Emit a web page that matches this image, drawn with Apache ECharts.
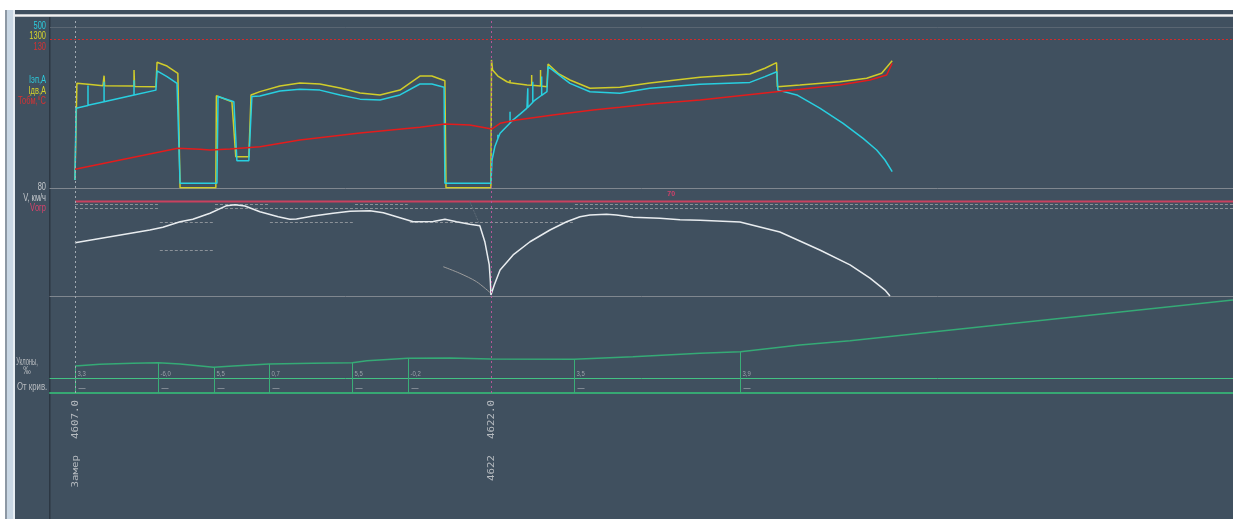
<!DOCTYPE html>
<html><head><meta charset="utf-8">
<script src="https://cdn.jsdelivr.net/npm/echarts@6/dist/echarts.min.js"></script>
<style>html,body{margin:0;padding:0;background:#fff;}#c{width:1233px;height:519px;}</style>
</head><body><div id="c"></div>
<script>
// ---------- DATA (x = km) ----------
const xMin = 4606.1, xMax = 4648.76;

// Iэп, A (cyan)
const iepData = [
 [4607.00,25],[4607.04,248],
 [4607.47,256],[4607.47,318],[4607.47,257],
 [4608.05,268],[4608.05,330],[4608.05,268],
 [4609.13,289],[4609.13,335],[4609.13,289],
 [4609.92,304],[4609.96,364],[4610.32,346],[4610.68,325],[4610.79,15],
 [4612.12,15],[4612.16,284],[4612.73,268],[4612.84,85],[4613.27,85],[4613.38,284],[4613.67,286],
 [4614.39,301],[4615.11,307],[4615.83,304],[4616.56,289],[4617.28,276],[4618.00,273],[4618.72,289],
 [4619.44,323],[4619.87,323],[4620.31,313],[4620.34,15],
 [4622.00,15],[4622.04,87],[4622.14,128],
 [4622.25,153],[4622.25,165],[4622.25,153],
 [4622.33,170],
 [4622.69,202],[4622.69,237],[4622.69,202],
 [4622.79,211],[4623.06,230],[4623.30,248],
 [4623.33,250],[4623.33,310],[4623.33,250],
 [4623.51,266],[4623.51,330],[4623.51,266],
 [4623.59,273],
 [4623.83,288],[4623.83,346],[4623.83,288],
 [4624.02,299],[4624.06,377],[4624.85,325],[4625.57,299],[4626.65,294],[4627.73,310],[4629.54,322],
 [4631.34,328],[4631.88,346],[4632.31,361],[4632.35,304],[4633.03,289],[4633.86,248],[4634.70,201],
 [4635.42,154],[4635.91,118],[4636.21,87],[4636.47,51]
];
// Iдв, A (yellow)
const idvData = [
 [4607.00,65],[4607.07,845],[4607.47,837],[4607.49,850],[4607.51,830],[4608.01,826],
 [4608.05,826],[4608.05,907],[4608.07,826],[4609.13,824],[4609.13,953],[4609.15,820],
 [4609.92,818],[4609.96,1015],[4610.32,985],[4610.71,926],[4610.79,3],
 [4612.08,3],[4612.10,745],[4612.66,697],[4612.80,253],[4613.27,253],[4613.35,751],[4613.67,778],
 [4614.39,824],[4615.11,848],[4615.83,840],[4616.56,808],[4617.28,767],[4618.00,751],[4618.72,791],
 [4619.44,904],[4619.87,904],[4620.34,866],[4620.38,3],
 [4622.00,3],[4622.02,1034],[4622.06,953],[4622.25,904],[4622.58,858],
 [4622.69,850],[4622.69,872],[4622.69,850],
 [4623.30,832],
 [4623.47,829],[4623.47,912],[4623.47,829],
 [4623.79,824],[4623.79,953],[4623.79,824],
 [4624.02,818],[4624.06,1001],[4624.45,921],[4624.85,872],[4625.57,805],[4626.65,813],[4627.73,848],
 [4629.54,894],[4631.34,921],[4631.88,967],[4632.30,1012],[4632.33,818],[4633.14,832],[4634.58,858],
 [4635.55,886],[4636.09,926],[4636.47,1028]
];
// Тобм, °C (red)
const tempData = [
 [4607.00,15.1],[4610.71,32.1],[4611.51,31.3],[4611.87,30.7],[4612.59,31.5],[4613.67,33.4],
 [4615.11,38.8],[4617.28,44.4],[4619.44,49.0],[4620.34,51.7],[4621.24,50.9],[4622.03,47.6],
 [4622.33,52.2],[4622.93,54.9],[4624.24,58.9],[4625.68,63.0],[4626.65,65.2],[4627.73,67.8],
 [4629.54,71.1],[4632.30,77.8],[4633.14,79.7],[4634.58,83.2],[4635.67,87.2],[4636.27,91.2],[4636.47,100.7]
];
const tempLimit = 120;
const iepScaleTop = 500;

// V, км/ч
const speedData = [
 [4607.00,39.5],[4609.70,48.9],[4610.17,50.9],[4610.79,55.0],[4611.25,56.8],[4611.87,61.3],
 [4612.47,66.9],[4612.77,67.6],[4613.13,66.7],[4613.67,62.4],[4614.33,58.7],[4614.75,56.8],
 [4614.99,57.0],[4615.59,59.3],[4616.31,61.3],[4616.92,62.7],[4617.64,63.2],[4618.12,61.7],
 [4618.72,58.0],[4619.20,55.0],[4619.92,55.2],[4620.34,56.8],[4620.76,55.0],[4621.24,53.1],
 [4621.60,52.1],[4621.78,40.2],[4621.94,23.0],[4621.98,10.6],[4622.00,0.7],[4622.12,8.1],
 [4622.33,19.3],[4622.80,30.4],[4623.41,40.2],[4624.13,48.9],[4624.73,55.0],[4625.21,58.7],
 [4625.57,60.0],[4626.17,60.5],[4626.53,60.0],[4627.13,58.3],[4628.09,57.6],[4628.82,56.5],
 [4629.54,56.1],[4630.98,54.8],[4632.42,47.4],[4633.86,34.1],[4634.95,23.0],[4635.67,13.3],
 [4636.21,4.4],[4636.39,0]
];
const speedAltData = [[4620.28,21.7],[4620.88,16.8],[4621.48,10.6],[4622.00,2.0]];
const brakeData = [[4621.24,69.9],[4621.60,52.6]];
const vLimit = 70;
// permanent speed limits: [from km, to km, km/h]
const limitUpper = [
 [4607.00,4610.00,68],[4610.06,4611.98,55],[4612.05,4614.03,68],[4614.03,4617.02,55],
 [4617.10,4619.00,68],[4619.08,4625.03,55],[4625.03,4648.76,68]
];
const limitLower = [[4607.00,4610.00,65],[4610.06,4611.98,34],[4612.05,4648.76,65]];

// profile (elevation, m relative)
const profileData = [
 [4607.0,12],[4607.9,13.7],[4609.09,14.7],[4610.0,15.3],[4610.79,14],[4612.0,10.7],[4612.7,12],
 [4614.0,14],[4615.58,14.7],[4617.0,15.3],[4617.53,17.3],[4619.0,19.7],[4620.52,20],[4622.0,19],
 [4625.0,18.7],[4627.12,21.3],[4629.54,24.7],[4631.0,26.3],[4633.14,33],[4634.95,37.3],[4648.76,78]
];
const gradeKm = [4607, 4610, 4612, 4614, 4617, 4619, 4625, 4631];
const gradeValues = [3.3, -6.0, 5.5, 0.7, 5.5, -0.2, 3.5, 3.9];
const curveRadius = [null, null, null, null, null, null, null, null];

// markers
const markerKm = [4607.0, 4622.0];
const markerLabels = ['4607.0', '4622.0'];
const markerNames = ['Замер', '4622'];

// ---------- CHART ----------
const fmtGrade = v => v.toFixed(1).replace('.', ',');
const elevAt = k => { const p = profileData.find(d => d[0] === k); return p ? p[1] : 0; };
const markerColors = ['#a2aab2', '#b4569a'];
const SANS = '"Liberation Sans",Arial,sans-serif';

const chart = echarts.init(document.getElementById('c'), null, {renderer: 'canvas', width: 1233, height: 519});

const X = (i, line) => ({
  gridIndex: i, type: 'value', min: xMin, max: xMax,
  axisLabel: {show: false}, axisTick: {show: false}, splitLine: {show: false},
  axisLine: Object.assign({show: true, onZero: false}, line)
});
const lbl = (text, x, y, color, align, size, sx) => ({
  type: 'text', x: x, y: y, z: 10, scaleX: sx || 0.68,
  style: {text: text, fill: color, font: (size || 11) + 'px ' + SANS, align: align || 'right', verticalAlign: 'middle'}
});

chart.setOption({
  animation: false,
  backgroundColor: '#40505f',
  grid: [
    {left: 50, right: 0, top: 27, height: 161},
    {left: 50, right: 0, top: 188, height: 108},
    {left: 50, right: 0, top: 296, height: 82},
    {left: 50, right: 0, top: 378, height: 15}
  ],
  xAxis: [
    X(0, {lineStyle: {color: '#80878f', width: 1}}),
    X(1, {lineStyle: {color: '#80878f', width: 1}}),
    X(2, {lineStyle: {color: '#43c283', width: 1}}),
    X(3, {lineStyle: {color: '#37a873', width: 2}})
  ],
  yAxis: [
    {gridIndex: 0, type: 'value', min: 0, max: 500, show: false},
    {gridIndex: 0, type: 'value', min: 0, max: 1300, show: false},
    {gridIndex: 0, type: 'value', min: 0, max: 130, show: false},
    {gridIndex: 1, type: 'value', min: 0, max: 80, show: false},
    {gridIndex: 2, type: 'value', min: 0, max: 82, show: false},
    {gridIndex: 3, type: 'value', min: 0, max: 1, show: false}
  ],
  graphic: [
    {type: 'rect', shape: {x: 0, y: 0, width: 1233, height: 10}, style: {fill: '#ffffff'}},
    {type: 'rect', shape: {x: 0, y: 0, width: 5, height: 519}, style: {fill: '#ffffff'}},
    {type: 'rect', shape: {x: 5, y: 10, width: 2, height: 509}, style: {fill: '#8d98a4'}},
    {type: 'rect', shape: {x: 7, y: 10, width: 6, height: 509}, style: {fill: '#c9d7e4'}},
    {type: 'rect', shape: {x: 13, y: 10, width: 2, height: 509}, style: {fill: '#e6edf3'}},
    {type: 'rect', shape: {x: 15, y: 14, width: 1218, height: 3}, style: {fill: '#c2c6ca'}},
    {type: 'rect', shape: {x: 15, y: 15, width: 1218, height: 1}, style: {fill: '#f2f2f2'}},
    {type: 'rect', shape: {x: 49, y: 17, width: 1.5, height: 502}, style: {fill: '#2c3743'}},
    lbl('500', 46, 25.5, '#2ccbdc'),
    lbl('1300', 46, 36, '#d4d22c'),
    lbl('130', 46, 47, '#d83232'),
    lbl('Iэп,А', 46, 80, '#2ccbdc'),
    lbl('Iдв,А', 46, 90.5, '#d4d22c'),
    lbl('Тобм,°С', 46, 100.5, '#d83232'),
    lbl('80', 46, 187, '#c4c8cc'),
    lbl('V, км/ч', 46, 198, '#c4c8cc'),
    lbl('Vогр', 46, 208, '#d8426c'),
    lbl('Уклоны,', 27, 362.5, '#b8bcc0', 'center', 10, 0.58),
    lbl('‰', 27, 371.5, '#b8bcc0', 'center', 10, 0.75),
    lbl('От крив.', 17, 387, '#b8bcc0', 'left', 10, 0.78)
  ],
  series: [
    {type: 'line', name: 'Iдв', xAxisIndex: 0, yAxisIndex: 1, data: idvData, symbol: 'none',
     lineStyle: {color: '#d0cc2a', width: 1.5}},
    {type: 'line', name: 'Iэп', xAxisIndex: 0, yAxisIndex: 0, data: iepData, symbol: 'none',
     lineStyle: {color: '#28cfe0', width: 1.5},
     markLine: {silent: true, symbol: 'none', label: {show: false},
       lineStyle: {color: '#5a6672', type: 'solid', width: 1}, data: [{yAxis: iepScaleTop}]}},
    {type: 'line', name: 'Тобм', xAxisIndex: 0, yAxisIndex: 2, data: tempData, symbol: 'none',
     lineStyle: {color: '#e41c1c', width: 1.5},
     markLine: {silent: true, symbol: 'none', label: {show: false},
       lineStyle: {color: '#d42a2a', type: [2, 2], width: 1}, data: [{yAxis: tempLimit}]}},
    {type: 'custom', name: 'limits', xAxisIndex: 1, yAxisIndex: 3,
     data: limitUpper.concat(limitLower),
     renderItem: (params, api) => {
       const p1 = api.coord([api.value(0), api.value(2)]);
       const p2 = api.coord([api.value(1), api.value(2)]);
       const y = Math.round(p1[1]) + 0.5;
       return {type: 'line', shape: {x1: p1[0], y1: y, x2: p2[0], y2: y},
         style: {stroke: '#8b9198', lineWidth: 1, lineDash: [3, 2]}};
     }},
    {type: 'line', name: 'Vогр', xAxisIndex: 1, yAxisIndex: 3, data: [[4607.0, vLimit], [xMax, vLimit]],
     symbol: 'none', lineStyle: {color: '#c9415f', width: 2},
     markPoint: {symbol: 'rect', symbolSize: 1, itemStyle: {color: 'rgba(0,0,0,0)'},
       data: [{coord: [4628.5, vLimit]}],
       label: {show: true, formatter: String(vLimit), position: 'top', distance: 3,
         color: '#d0406a', fontSize: 7, fontWeight: 'bold'}}},
    {type: 'line', name: 'Vторм', xAxisIndex: 1, yAxisIndex: 3, data: brakeData, symbol: 'none',
     lineStyle: {color: '#5f6c78', width: 1, type: [2, 1]}},
    {type: 'line', name: 'V2', xAxisIndex: 1, yAxisIndex: 3, data: speedAltData, symbol: 'none', smooth: 0.3,
     lineStyle: {color: '#9c9c9c', width: 1}},
    {type: 'line', name: 'V', xAxisIndex: 1, yAxisIndex: 3, data: speedData, symbol: 'none',
     lineStyle: {color: '#e8ecef', width: 1.5}},
    {type: 'line', name: 'profile', xAxisIndex: 2, yAxisIndex: 4, data: profileData, symbol: 'none',
     lineStyle: {color: '#35aa76', width: 1.5}},
    {type: 'custom', name: 'grades', xAxisIndex: 2, yAxisIndex: 4,
     data: gradeKm.map(k => [k, elevAt(k)]),
     renderItem: (params, api) => {
       const top = api.coord([api.value(0), api.value(1)]);
       const bot = api.coord([api.value(0), 0]);
       const x = Math.round(top[0]) + 0.5;
       return {type: 'group', children: [
         {type: 'line', shape: {x1: x, y1: top[1], x2: x, y2: bot[1]}, style: {stroke: '#3aae78', lineWidth: 1}},
         {type: 'text', x: x + 2, y: bot[1] - 4, scaleX: 0.85,
          style: {text: fmtGrade(gradeValues[params.dataIndex]), fill: '#9aa2aa', font: '7px ' + SANS, verticalAlign: 'middle'}}
       ]};
     }},
    {type: 'custom', name: 'curves', xAxisIndex: 3, yAxisIndex: 5,
     data: gradeKm.map(k => [k, 0]),
     renderItem: (params, api) => {
       const p = api.coord([api.value(0), 0]);
       const cs = params.coordSys;
       const x = Math.round(p[0]) + 0.5;
       const r = curveRadius[params.dataIndex];
       return {type: 'group', children: [
         {type: 'line', shape: {x1: x, y1: cs.y, x2: x, y2: cs.y + cs.height}, style: {stroke: '#3aae78', lineWidth: 1}},
         {type: 'text', x: x + 3, y: cs.y + 10,
          style: {text: r == null ? '—' : String(r), fill: '#b8bcc0', font: '7px ' + SANS, verticalAlign: 'middle'}}
       ]};
     }},
    {type: 'custom', name: 'markers', xAxisIndex: 3, yAxisIndex: 5, clip: false, z: 5,
     data: markerKm.map(k => [k, 0]),
     renderItem: (params, api) => {
       const i = params.dataIndex;
       const p = api.coord([api.value(0), 0]);
       const cs = params.coordSys;
       const x = Math.round(p[0]) + 0.5;
       const font = '9px "DejaVu Sans Mono",monospace';
       return {type: 'group', children: [
         {type: 'line', shape: {x1: x, y1: 21, x2: x, y2: cs.y + cs.height}, style: {stroke: markerColors[i], lineWidth: 1, lineDash: [2, 3]}},
         {type: 'text', x: x, y: 400, rotation: Math.PI / 2, scaleX: 1.2,
          style: {text: markerLabels[i], align: 'right', verticalAlign: 'middle', fill: '#b6bbc0', font: font}},
         {type: 'text', x: x, y: 455, rotation: Math.PI / 2, scaleX: 1.2,
          style: {text: markerNames[i], align: 'right', verticalAlign: 'middle', fill: '#b6bbc0', font: font}}
       ]};
     }}
  ]
});
</script></body></html>
